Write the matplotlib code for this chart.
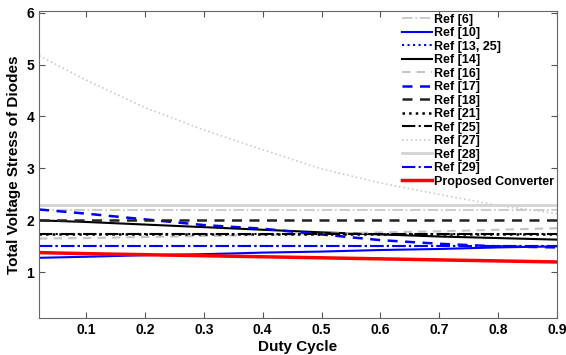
import matplotlib
matplotlib.use("Agg")
import matplotlib.pyplot as plt

plt.rcParams['font.family'] = ['Liberation Sans', 'DejaVu Sans']
plt.rcParams['font.weight'] = 'bold'

# duty cycle points
duty = [0.02, 0.1, 0.2, 0.3, 0.4, 0.5, 0.6, 0.7, 0.8, 0.9]

ref6 = [2.2] * 10
ref10 = [1.28, 1.30, 1.33, 1.35, 1.38, 1.40, 1.43, 1.45, 1.48, 1.50]
ref13_25 = [1.51] * 10
ref14 = [2.0, 1.97, 1.92, 1.87, 1.82, 1.77, 1.73, 1.69, 1.66, 1.63]
ref16 = [1.65, 1.66, 1.68, 1.70, 1.72, 1.74, 1.77, 1.79, 1.82, 1.85]
ref17 = [2.21, 2.13, 2.02, 1.91, 1.84, 1.73, 1.62, 1.55, 1.50, 1.48]
ref18 = [2.0] * 10
ref21 = [1.73] * 10
ref25 = [1.73] * 10
ref27 = [5.17, 4.70, 4.17, 3.74, 3.36, 2.99, 2.72, 2.50, 2.29, 2.13]
ref28 = [2.3] * 10
ref29 = [1.5] * 10
proposed = [1.38, 1.36, 1.34, 1.32, 1.30, 1.28, 1.26, 1.24, 1.22, 1.20]

fig = plt.figure(figsize=(5.66, 3.55), dpi=100)
ax = fig.add_axes([0.069, 0.104, 0.915, 0.865])

gray = '#c4c4c4'
ax.plot(duty, ref6, color=gray, linestyle='-.', lw=1.2, label='Ref [6]')
ax.plot(duty, ref10, color='blue', linestyle='-', lw=1.5, label='Ref [10]')
ax.plot(duty, ref13_25, color='blue', linestyle=':', lw=1.5, label='Ref [13, 25]')
ax.plot(duty, ref14, color='black', linestyle='-', lw=1.5, label='Ref [14]')
ax.plot(duty, ref16, color=gray, linestyle=(0, (4, 3)), lw=1.5, label='Ref [16]')
ax.plot(duty, ref17, color='blue', linestyle=(0, (4, 3)), lw=1.8, label='Ref [17]')
ax.plot(duty, ref18, color='#222222', linestyle=(0, (4, 3)), lw=1.8, label='Ref [18]')
ax.plot(duty, ref21, color='black', linestyle=':', lw=1.8, label='Ref [21]')
ax.plot(duty, ref25, color='black', linestyle='-.', lw=1.5, label='Ref [25]')
ax.plot(duty, ref27, color='#cccccc', linestyle=':', lw=1.2, label='Ref [27]')
ax.plot(duty, ref28, color='#d4d4d4', linestyle='-', lw=2, label='Ref [28]')
ax.plot(duty, ref29, color='blue', linestyle='-.', lw=1.5, label='Ref [29]')
ax.plot(duty, proposed, color='red', linestyle='-', lw=2.5, label='Proposed Converter')

ax.set_xlim(0.02, 0.9)
ax.set_ylim(0.12, 6.03)
ax.set_xticks([0.1, 0.2, 0.3, 0.4, 0.5, 0.6, 0.7, 0.8, 0.9])
ax.set_xticklabels(['0.1', '0.2', '0.3', '0.4', '0.5', '0.6', '0.7', '0.8', '0.9'])
ax.set_yticks([1, 2, 3, 4, 5, 6])
ax.tick_params(direction='in', top=True, right=True, labelsize=10, length=4, color='#555555')
for s in ax.spines.values():
    s.set_color('#666666')
    s.set_linewidth(0.8)

ax.set_xlabel('Duty Cycle', fontsize=11, fontweight='bold', labelpad=2)
ax.set_ylabel('Total Voltage Stress of Diodes', fontsize=11, fontweight='bold', labelpad=4)

ax.legend(loc='upper right', frameon=False, handlelength=2.4,
          handletextpad=0.2, labelspacing=0.12, borderaxespad=0.1,
          borderpad=0.1, prop={'weight': 'bold', 'size': 9})

fig.savefig('out.png', dpi=100)
